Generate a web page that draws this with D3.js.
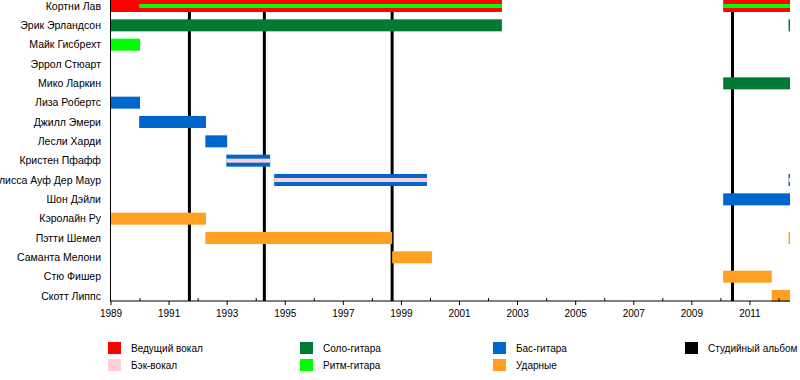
<!DOCTYPE html>
<html><head><meta charset="utf-8">
<script src="https://cdn.jsdelivr.net/npm/d3@7"></script>
<style>body{margin:0;background:#fff}svg{display:block}text{font-family:"Liberation Sans",Arial,sans-serif;fill:#000}</style>
</head><body>
<script>
const members = ["Кортни Лав","Эрик Эрландсон","Майк Гисбрехт","Эррол Стюарт","Мико Ларкин","Лиза Робертс","Джилл Эмери","Лесли Харди","Кристен Пфафф","Мелисса Ауф Дер Маур","Шон Дэйли","Кэролайн Ру","Пэтти Шемел","Саманта Мелони","Стю Фишер","Скотт Липпс"];
const yearTicks = [1989,1991,1993,1995,1997,1999,2001,2003,2005,2007,2009,2011];
const startYear = 1989, endYear = 2012.38;
const albums = [1991.70, 1994.28, 1998.68, 2010.40];
// [member, start, end]
const leadVocals = [["Кортни Лав",1989,2002.46],["Кортни Лав",2010.08,2012.38]];
const leadGuitar = [["Эрик Эрландсон",1989,2002.46],["Эрик Эрландсон",2012.33,2012.38],["Мико Ларкин",2010.08,2012.38]];
const rhythmGuitar = [["Майк Гисбрехт",1989,1990.0]];
const rhythmGuitarStripe = [["Кортни Лав",1989.97,2002.46],["Кортни Лав",2010.08,2012.38]];
const bass = [["Лиза Робертс",1989,1990.0],["Джилл Эмери",1989.97,1992.27],["Лесли Харди",1992.25,1993.0],["Кристен Пфафф",1992.97,1994.48],["Мелисса Ауф Дер Маур",1994.62,1999.88],["Мелисса Ауф Дер Маур",2012.33,2012.38],["Шон Дэйли",2010.08,2012.38]];
const backingStripe = [["Кристен Пфафф",1992.97,1994.48],["Мелисса Ауф Дер Маур",1994.62,1999.88],["Мелисса Ауф Дер Маур",2012.33,2012.38]];
const drums = [["Кэролайн Ру",1989,1992.27],["Пэтти Шемел",1992.25,1998.68],["Пэтти Шемел",2012.33,2012.38],["Саманта Мелони",1998.68,2000.05],["Стю Фишер",2010.08,2011.75],["Скотт Липпс",2011.75,2012.38]];
const legendItems = [["Ведущий вокал","#ff0000"],["Бэк-вокал","#ffd0d4"],["Соло-гитара","#007a35"],["Ритм-гитара","#00ff00"],["Бас-гитара","#0066cc"],["Ударные","#ffa023"],["Студийный альбом","#000000"]];
const C = {vocal:"#ff0000", bvocal:"#ffd0d4", lead:"#007a35", rhythm:"#00ff00", bass:"#0066cc", drums:"#ffa023", album:"#000000"};

const W=800,H=380;
const svg=d3.select("body").append("svg").attr("width",W).attr("height",H);
const x=d3.scaleLinear().domain([startYear,endYear]).range([111,790]);
const y=d3.scalePoint().domain(members).range([6,296]);
const barH=12, stripeH=4, plotBottom=301;

// album lines
svg.append("g").selectAll("line").data(albums).join("line")
  .attr("x1",d=>x(d)).attr("x2",d=>x(d)).attr("y1",0).attr("y2",plotBottom)
  .attr("stroke",C.album).attr("stroke-width",3);

function bars(data,color,h){
  svg.append("g").selectAll("rect").data(data).join("rect")
    .attr("x",d=>x(d[1])).attr("width",d=>Math.max(1,x(d[2])-x(d[1])))
    .attr("y",d=>y(d[0])-h/2).attr("height",h).attr("fill",color);
}
bars(leadVocals,C.vocal,barH);
bars(leadGuitar,C.lead,barH);
bars(rhythmGuitar,C.rhythm,barH);
bars(bass,C.bass,barH);
bars(drums,C.drums,barH);
bars(rhythmGuitarStripe,C.rhythm,stripeH);
bars(backingStripe,C.bvocal,stripeH);

// member labels
svg.append("g").selectAll("text").data(members).join("text")
  .attr("x",101).attr("y",d=>y(d)).attr("dy","0.35em").attr("text-anchor","end")
  .attr("font-size",10.5).text(d=>d);

// axes frame
svg.append("line").attr("x1",110.5).attr("x2",110.5).attr("y1",0).attr("y2",plotBottom).attr("stroke","#000");
const ax=svg.append("g").attr("transform",`translate(0,${plotBottom})`);
ax.append("line").attr("x1",110).attr("x2",790).attr("stroke","#000");
const allYears=d3.range(1989,2013);
ax.selectAll("line.t").data(allYears).join("line").attr("class","t")
  .attr("x1",d=>x(d)).attr("x2",d=>x(d)).attr("y1",0).attr("y2",d=>yearTicks.includes(d)?4:-3).attr("stroke","#000");
ax.selectAll("text").data(yearTicks).join("text")
  .attr("x",d=>x(d)).attr("y",16).attr("text-anchor","middle").attr("font-size",10).text(d=>d);

// legend
const legX=[108,300,493,685];
const lg=svg.append("g");
legendItems.forEach((d,i)=>{
  let col,row;
  if(i<2){col=0;row=i}else if(i<4){col=1;row=i-2}else if(i<6){col=2;row=i-4}else{col=3;row=0}
  const gx=legX[col], gy=342+row*17;
  lg.append("rect").attr("x",gx).attr("y",gy).attr("width",13).attr("height",12).attr("fill",d[1]);
  lg.append("text").attr("x",gx+23).attr("y",gy+6).attr("dy","0.35em").attr("font-size",10).text(d[0]);
});
</script>
</body></html>
